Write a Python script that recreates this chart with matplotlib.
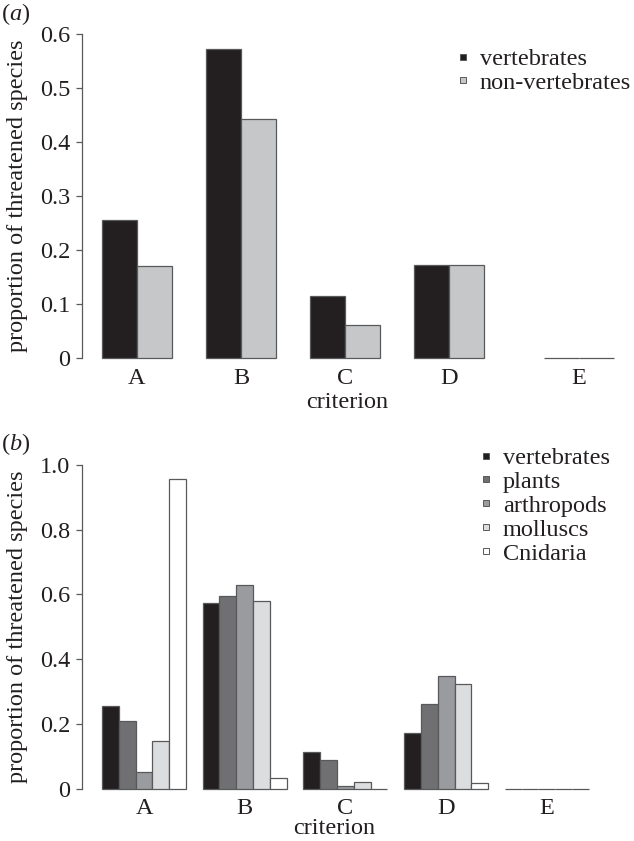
import matplotlib
matplotlib.use("Agg")
import matplotlib.pyplot as plt
from matplotlib.lines import Line2D
from matplotlib.font_manager import FontProperties
import matplotlib.transforms as mtransforms
import numpy as np

plt.rcParams['font.family'] = 'Liberation Serif'
plt.rcParams['mathtext.fontset'] = 'custom'
plt.rcParams['mathtext.rm'] = 'Liberation Serif'
plt.rcParams['mathtext.it'] = 'Liberation Serif:italic'

criteria = ["A", "B", "C", "D", "E"]
pos_a = [0, 1, 2, 3, 4.25]
pos_b = [0, 1, 2, 3, 4]

# panel (a)
series_a = ["vertebrates", "non-vertebrates"]
vals_a = {
    "vertebrates": [0.255, 0.572, 0.114, 0.173, 0.0],
    "non-vertebrates": [0.170, 0.443, 0.062, 0.173, 0.0],
}
colors_a = ["#231f20", "#c6c7c9"]

# panel (b)
series_b = ["vertebrates", "plants", "arthropods", "molluscs", "Cnidaria"]
vals_b = {
    "vertebrates": [0.255, 0.573, 0.113, 0.173, 0.0],
    "plants": [0.208, 0.595, 0.088, 0.262, 0.0],
    "arthropods": [0.053, 0.629, 0.008, 0.348, 0.0],
    "molluscs": [0.146, 0.580, 0.021, 0.324, 0.0],
    "Cnidaria": [0.958, 0.033, 0.0, 0.017, 0.0],
}
colors_b = ["#231f20", "#707073", "#9a9b9f", "#dcdddf", "#ffffff"]

W, H = 634, 841
fig = plt.figure(figsize=(W / 100, H / 100), dpi=100)

edge = "#58595b"
txt = "#231f20"
fs = 17.5
fp = FontProperties(family="Liberation Serif", size=fs)

def setup(ax, ylim, ticks, ticklabels):
    ax.set_ylim(*ylim)
    ax.set_yticks(ticks)
    ax.set_yticklabels(ticklabels, fontproperties=fp, color=txt)
    for s in ["top", "right", "bottom"]:
        ax.spines[s].set_visible(False)
    ax.spines["left"].set_color(edge)
    ax.spines["left"].set_linewidth(0.9)
    ax.tick_params(axis="y", length=4.5, width=0.9, color=edge, pad=4)
    ax.tick_params(axis="x", length=0, pad=7)
    ax.set_ylabel("proportion of threatened species", fontproperties=fp, color=txt)
    ax.yaxis.set_label_coords(-0.098, 0.5)

def legend(handles, labels, x, y):
    fig.legend(handles, labels, loc="upper left", bbox_to_anchor=(x / W, 1 - y / H),
               frameon=False, prop=fp, handlelength=0.45, handletextpad=0.45,
               labelspacing=0.08, borderpad=0, borderaxespad=0, labelcolor=txt)

def handles(colors):
    return [Line2D([], [], marker="s", linestyle="none", markersize=5,
                   markerfacecolor=c, markeredgecolor=edge, markeredgewidth=0.7)
            for c in colors]

# ---- panel (a)
axa = fig.add_axes([82 / W, 1 - 358 / H, (634 - 82) / W, (358 - 34) / H])
wa = 0.337
for i, (s, c) in enumerate(zip(series_a, colors_a)):
    x = np.array(pos_a) + (i - 0.5) * wa
    axa.bar(x, vals_a[s], width=wa, color=c, edgecolor=edge, linewidth=0.9, clip_on=False)
axa.set_xlim(-0.529, 4.78)
setup(axa, (0, 0.6), [0, 0.1, 0.2, 0.3, 0.4, 0.5, 0.6], ["0", "0.1", "0.2", "0.3", "0.4", "0.5", "0.6"])
axa.set_xticks(pos_a)
axa.set_xticklabels(criteria, fontproperties=fp, color=txt)
ta = mtransforms.blended_transform_factory(axa.transData, axa.transAxes)
axa.text(2.02, -44 / 324, "criterion", fontproperties=fp, color=txt, ha="center", va="center",
         transform=ta, clip_on=False)
fig.text(1 / W, 1 - 14 / H, r"($\mathit{a}$)", fontproperties=fp, color=txt, va="center")
legend(handles(colors_a), series_a, 458, 48)

# ---- panel (b)
axb = fig.add_axes([82 / W, 1 - 788.7 / H, (634 - 82) / W, (788.7 - 465) / H])
wb = 0.167
n = len(series_b)
for i, (s, c) in enumerate(zip(series_b, colors_b)):
    x = np.array(pos_b) + (i - (n - 1) / 2) * wb
    axb.bar(x, vals_b[s], width=wb, color=c, edgecolor=edge, linewidth=0.9, clip_on=False)
axb.set_xlim(-0.616, 4.866)
setup(axb, (0, 1.0), [0, 0.2, 0.4, 0.6, 0.8, 1.0], ["0", "0.2", "0.4", "0.6", "0.8", "1.0"])
axb.set_xticks(pos_b)
axb.set_xticklabels(criteria, fontproperties=fp, color=txt)
tb = mtransforms.blended_transform_factory(axb.transData, axb.transAxes)
axb.text(1.89, -39.5 / 323.7, "criterion", fontproperties=fp, color=txt, ha="center", va="center",
         transform=tb, clip_on=False)
fig.text(1 / W, 1 - 444 / H, r"($\mathit{b}$)", fontproperties=fp, color=txt, va="center")
legend(handles(colors_b), series_b, 481, 447)

fig.savefig("out.png", dpi=100)
